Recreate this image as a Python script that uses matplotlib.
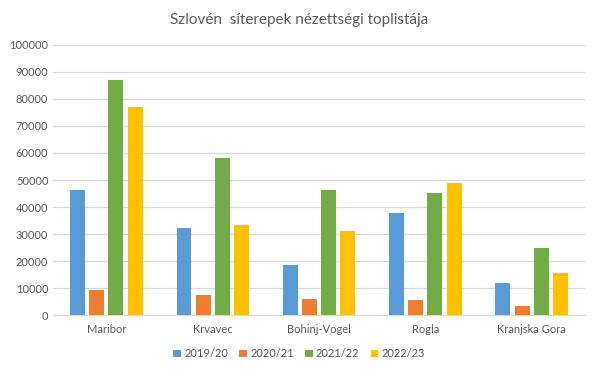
import numpy as np
import matplotlib
matplotlib.use("Agg")
import matplotlib.pyplot as plt

# --- Data ---
resorts = ["Maribor", "Krvavec", "Bohinj-Vogel", "Rogla", "Kranjska Gora"]
seasons = ["2019/20", "2020/21", "2021/22", "2022/23"]
v_2019 = [46300, 32200, 18500, 37800, 11900]
v_2020 = [9400, 7400, 6000, 5600, 3300]
v_2021 = [87000, 58100, 46300, 45200, 24800]
v_2022 = [77000, 33500, 31100, 48900, 15600]
series = [v_2019, v_2020, v_2021, v_2022]
colors = ["#5B9BD5", "#ED7D31", "#70AD47", "#FFC000"]

plt.rcParams["font.family"] = ["Lato", "DejaVu Sans"]
text_col = "#595959"

fig = plt.figure(figsize=(5.98, 3.77), dpi=100)
ax = fig.add_axes([0.089, 0.164, 0.889, 0.717])

x = np.arange(len(resorts))
width = 0.141
step = 0.18
for i, (vals, c, lab) in enumerate(zip(series, colors, seasons)):
    ax.bar(x + (i - 1.5) * step, vals, width, color=c, label=lab, zorder=3)

ax.set_xlim(-0.5, len(resorts) - 0.5)
ax.set_ylim(0, 100000)
ax.set_yticks(np.arange(0, 100001, 10000))
ax.set_yticklabels([str(v) for v in range(0, 100001, 10000)])
ax.set_xticks(x)
ax.set_xticklabels(resorts)
ax.tick_params(axis="both", length=0, colors=text_col, labelsize=8)
ax.tick_params(axis="x", pad=6)
ax.grid(axis="y", color="#D9D9D9", linewidth=0.9, zorder=0)
for s in ["top", "right", "left"]:
    ax.spines[s].set_visible(False)
ax.spines["bottom"].set_color("#D9D9D9")

fig.suptitle("Szlovén  síterepek nézettségi toplistája", y=0.965, fontsize=11, color=text_col)
fig.legend(loc="lower center", ncol=4, frameon=False, fontsize=8, bbox_to_anchor=(0.5, 0.02),
           handlelength=0.7, handleheight=0.7, handletextpad=0.3, columnspacing=1.0,
           labelcolor=text_col)

fig.savefig("out.png", dpi=100)
